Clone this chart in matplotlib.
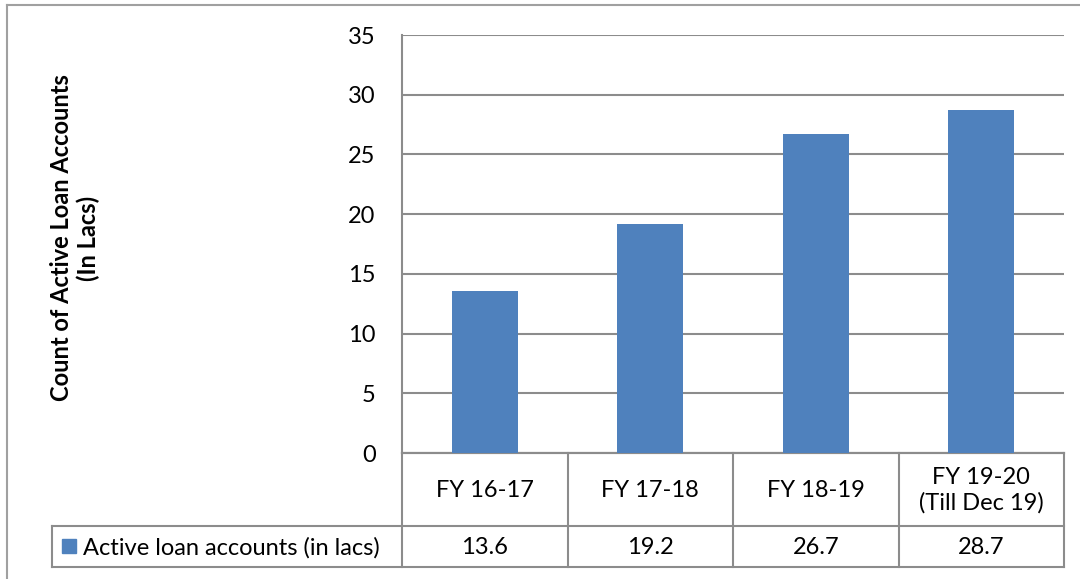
import matplotlib
matplotlib.use("Agg")
import matplotlib.pyplot as plt
from matplotlib.patches import Rectangle

categories = ["FY 16-17", "FY 17-18", "FY 18-19", "FY 19-20\n(Till Dec 19)"]
values = [13.6, 19.2, 26.7, 28.7]
value_labels = ["13.6", "19.2", "26.7", "28.7"]
series_name = "Active loan accounts (in lacs)"
y_ticks = [0, 5, 10, 15, 20, 25, 30, 35]
y_label = "Count of Active Loan Accounts\n(In Lacs)"

BAR = "#4F81BD"
GRID = "#8C8C8C"
FONT = "Lato"
FS = 17

W, H = 1080, 579
fig = plt.figure(figsize=(W / 100, H / 100), dpi=100)

# overlay in pixel coordinates
ov = fig.add_axes([0, 0, 1, 1], zorder=0)
ov.set_xlim(0, W)
ov.set_ylim(H, 0)
ov.axis("off")

x0, x1, ytop, ybot = 402, 1064, 35, 453
ax = fig.add_axes([x0 / W, (H - ybot) / H, (x1 - x0) / W, (ybot - ytop) / H], zorder=1)
ax.patch.set_alpha(0)
n = len(categories)
ax.bar(range(n), values, width=0.4, color=BAR, zorder=3)
ax.set_xlim(-0.5, n - 0.5)
ax.set_ylim(0, 35)
ax.set_yticks(y_ticks)
ax.set_yticklabels([str(t) for t in y_ticks], fontsize=FS, family=FONT)
ax.set_xticks([])
ax.yaxis.grid(True, color=GRID, linewidth=1.5)
ax.set_axisbelow(True)
for s in ["top", "right"]:
    ax.spines[s].set_visible(False)
ax.spines["left"].set_color(GRID)
ax.spines["left"].set_linewidth(1.5)
ax.spines["bottom"].set_color(GRID)
ax.spines["bottom"].set_linewidth(1.5)
ax.tick_params(axis="y", length=0, pad=19)

ov.text(75, 238, y_label, rotation=90, ha="center", va="center", fontsize=FS,
        family=FONT, fontweight="bold", linespacing=1.15, multialignment="center")

# table
row1_bot, row2_top, row2_bot = 526, 526, 567
col_w = (x1 - x0) / n
edges = [x0 + i * col_w for i in range(n + 1)]
lw = 1.5
for e in edges:
    ov.plot([e, e], [ybot, row2_bot], color=GRID, lw=lw)
ov.plot([x0, x1], [ybot, ybot], color=GRID, lw=lw)
ov.plot([52, x1], [row2_top, row2_top], color=GRID, lw=lw)
ov.plot([52, x1], [row2_bot, row2_bot], color=GRID, lw=lw)
ov.plot([52, 52], [row2_top, row2_bot], color=GRID, lw=lw)
for i in range(n):
    cx = (edges[i] + edges[i + 1]) / 2
    ov.text(cx, (ybot + row1_bot) / 2 + 1, categories[i], ha="center", va="center",
            fontsize=FS, family=FONT, linespacing=1.2)
    ov.text(cx, (row2_top + row2_bot) / 2 + 1, value_labels[i], ha="center", va="center",
            fontsize=FS, family=FONT)
ov.add_patch(Rectangle((62, 539), 14, 14, color=BAR))
ov.text(83, (row2_top + row2_bot) / 2 + 1, series_name, ha="left", va="center",
        fontsize=FS, family=FONT)

# outer frame (top and left)
ov.plot([7, W], [5, 5], color="#A0A0A0", lw=1.5)
ov.plot([7, 7], [5, H], color="#A0A0A0", lw=1.5)

fig.savefig("out.png", dpi=100)
